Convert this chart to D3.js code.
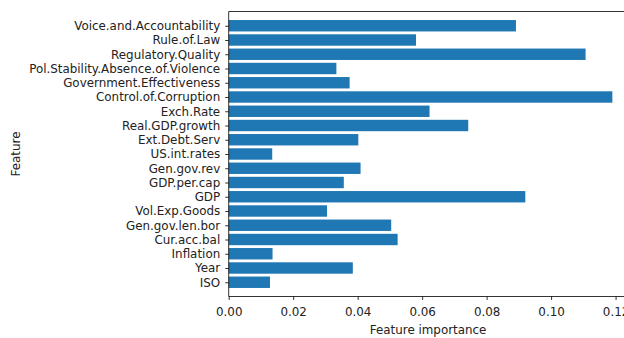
<!DOCTYPE html>
<html><head><meta charset="utf-8">
<script src="https://cdn.jsdelivr.net/npm/d3@7"></script>
<style>
html,body{margin:0;padding:0;background:#fff;overflow:hidden;}
text{font-family:"DejaVu Sans",sans-serif;fill:#222;}
</style></head>
<body>
<script>
// Categories bottom-to-top (index 0 at bottom)
const features = ["ISO","Year","Inflation","Cur.acc.bal","Gen.gov.len.bor","Vol.Exp.Goods","GDP","GDP.per.cap","Gen.gov.rev","US.int.rates","Ext.Debt.Serv","Real.GDP.growth","Exch.Rate","Control.of.Corruption","Government.Effectiveness","Pol.Stability.Absence.of.Violence","Regulatory.Quality","Rule.of.Law","Voice.and.Accountability"];
const importance = [0.0128,0.0385,0.0136,0.0524,0.0504,0.0305,0.0920,0.0357,0.0409,0.0135,0.0402,0.0743,0.0623,0.1190,0.0375,0.0334,0.1107,0.0581,0.0891];
const xTicks = [0,0.02,0.04,0.06,0.08,0.10,0.12];
const xLabel = "Feature importance";
const yLabel = "Feature";

const W = 624, H = 338;
const L = 228.7, R = 627.5, T = 11.5, B = 296.5;
const FS = 11.9;

const svg = d3.select("body").append("svg").attr("width", W).attr("height", H);

const x = d3.scaleLinear().domain([0, 0.1237]).range([L, R]);
const y = d3.scaleLinear().domain([-1, features.length]).range([B, T]);
const barH = (y(0) - y(0.8));

svg.append("g").selectAll("rect").data(importance).join("rect")
  .attr("x", x(0))
  .attr("y", (d,i) => y(i) - barH/2)
  .attr("width", d => x(d) - x(0))
  .attr("height", barH)
  .attr("fill", "#1f77b4");

// x axis
const xAxis = d3.axisBottom(x).tickValues(xTicks).tickFormat(d3.format(".2f")).tickSize(3.5).tickPadding(7.5);
const gx = svg.append("g").attr("transform", `translate(0,${B})`).call(xAxis);
gx.select(".domain").remove();
gx.selectAll("line").attr("stroke", "#000").attr("stroke-width", 0.8);
gx.selectAll("text").attr("font-size", FS).attr("font-family", "DejaVu Sans").attr("fill", "#222");

// y axis
const yAxis = d3.axisLeft(y).tickValues(d3.range(features.length)).tickFormat(i => features[i]).tickSize(3.5).tickPadding(5);
const gy = svg.append("g").attr("transform", `translate(${L},0)`).call(yAxis);
gy.select(".domain").remove();
gy.selectAll("line").attr("stroke", "#000").attr("stroke-width", 0.8);
gy.selectAll("text").attr("font-size", FS).attr("font-family", "DejaVu Sans").attr("fill", "#222");

// spines
const sp = svg.append("g").attr("stroke", "#000").attr("stroke-width", 0.8).attr("fill", "none");
sp.append("line").attr("x1", L).attr("x2", L).attr("y1", T).attr("y2", B);
sp.append("line").attr("x1", L).attr("x2", R).attr("y1", B).attr("y2", B);
sp.append("line").attr("x1", L).attr("x2", R).attr("y1", T).attr("y2", T);
sp.append("line").attr("x1", R).attr("x2", R).attr("y1", T).attr("y2", B);

// axis labels
svg.append("text").attr("x", (L+R)/2).attr("y", 334).attr("text-anchor", "middle")
  .attr("font-size", FS).text(xLabel);
svg.append("text").attr("transform", `translate(20,${(T+B)/2}) rotate(-90)`).attr("text-anchor", "middle")
  .attr("font-size", FS).text(yLabel);
</script>
</body></html>
